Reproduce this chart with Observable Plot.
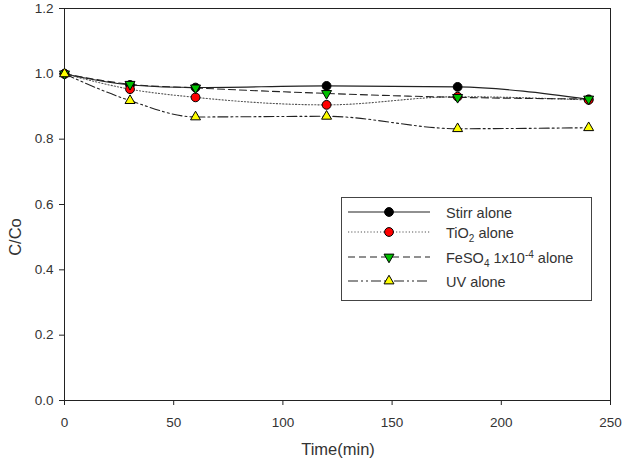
<!DOCTYPE html>
<html>
<head>
<meta charset="utf-8">
<script src="https://cdn.jsdelivr.net/npm/d3@7"></script>
<script src="https://cdn.jsdelivr.net/npm/@observablehq/plot@0.6"></script>
<style>
  html, body { margin: 0; padding: 0; background: #fff; }
  #chart svg { display: block; font-family: "Liberation Sans", Arial, sans-serif; }
</style>
</head>
<body>
<div id="chart"></div>
<script>
// Sampling times (min)
const times = [0, 30, 60, 120, 180, 240];

// C/Co for each control experiment
const stirr = [1.0, 0.966, 0.958, 0.963, 0.960, 0.922];
const tio2  = [1.0, 0.953, 0.928, 0.905, 0.930, 0.920];
const feso4 = [1.0, 0.968, 0.957, 0.940, 0.928, 0.923];
const uv    = [1.0, 0.918, 0.868, 0.870, 0.832, 0.835];

const yTicks = [0, 0.2, 0.4, 0.6, 0.8, 1.0, 1.2];
const xTicks = [0, 50, 100, 150, 200, 250];

const series = [
  {key: "stirr", values: stirr, dash: null, fill: "#000000", symbol: "circle", rotate: 0, r: 4.4},
  {key: "tio2", values: tio2, dash: "1.2,2", fill: "#ff0000", symbol: "circle", rotate: 0, r: 4.4},
  {key: "feso4", values: feso4, dash: "7,4", fill: "#00c000", symbol: "triangle", rotate: 180, r: 3.7},
  {key: "uv", values: uv, dash: "10,3,2,3,2,3", fill: "#ffff00", symbol: "triangle", rotate: 0, r: 3.7}
];

const rows = series.map(s => times.map((t, i) => ({t, v: s.values[i], key: s.key})));

const marks = [];
series.forEach((s, i) => {
  marks.push(Plot.line(rows[i], {
    x: "t", y: "v", curve: "monotone-x",
    stroke: s.key === "tio2" ? "#555" : "#222",
    strokeWidth: 1.1,
    strokeDasharray: s.dash
  }));
});
series.forEach((s, i) => {
  marks.push(Plot.dot(rows[i], {
    x: "t", y: "v", symbol: () => s.symbol, r: s.r, rotate: s.rotate,
    fill: s.fill, stroke: "#000", strokeWidth: 1
  }));
});

const chart = Plot.plot({
  width: 624,
  height: 459,
  marginLeft: 64,
  marginRight: 14,
  marginTop: 8,
  marginBottom: 59,
  style: {fontFamily: "Liberation Sans, Arial, sans-serif", fontSize: "13px", color: "#333"},
  symbol: {type: "identity"},
  x: {domain: [0, 250], ticks: xTicks},
  y: {domain: [0, 1.2], ticks: yTicks},
  marks: [
    Plot.axisX({ticks: xTicks, tickSize: 5, tickPadding: 12, label: null, fontSize: 13.5, stroke: "#222"}),
    Plot.axisY({ticks: yTicks, tickSize: 5, tickPadding: 6, tickFormat: d3.format(".1f"), label: null, fontSize: 13.5, stroke: "#222"}),
    Plot.frame({stroke: "#222", strokeWidth: 1}),
    ...marks
  ]
});

document.getElementById("chart").appendChild(chart);

// Axis titles and legend drawn into the same SVG
const svg = d3.select(chart);
svg.append("text")
  .attr("x", 338).attr("y", 455)
  .attr("text-anchor", "middle")
  .attr("font-size", 16.5).attr("fill", "#333")
  .text("Time(min)");
svg.append("text")
  .attr("transform", "translate(21,237) rotate(-90)")
  .attr("text-anchor", "middle")
  .attr("font-size", 16.5).attr("fill", "#333")
  .text("C/Co");

const lg = svg.append("g").attr("text-anchor", "start");
lg.append("rect")
  .attr("x", 341.5).attr("y", 197.5).attr("width", 250).attr("height", 103)
  .attr("fill", "#fff").attr("stroke", "#444").attr("stroke-width", 1);

const legendRows = [
  {y: 212, parts: [["Stirr alone"]]},
  {y: 232, parts: [["TiO"], ["2", "sub"], [" alone", "base", -4]]},
  {y: 257, parts: [["FeSO"], ["4", "sub"], [" 1x10", "base", -4], ["-4", "sup"], [" alone", "base", 5]]},
  {y: 281, parts: [["UV alone"]]}
];
series.forEach((s, i) => {
  const row = legendRows[i];
  lg.append("line")
    .attr("x1", 348).attr("x2", 430).attr("y1", row.y).attr("y2", row.y)
    .attr("stroke", s.key === "tio2" ? "#555" : "#222").attr("stroke-width", 1.1)
    .attr("stroke-dasharray", s.dash);
  const type = s.symbol === "circle" ? d3.symbolCircle : d3.symbolTriangle;
  lg.append("path")
    .attr("d", d3.symbol(type, Math.PI * s.r * s.r)())
    .attr("transform", `translate(389,${row.y}) rotate(${s.rotate})`)
    .attr("fill", s.fill).attr("stroke", "#000");
  const t = lg.append("text")
    .attr("x", 446).attr("y", row.y + 6)
    .attr("font-size", 14.5).attr("fill", "#333");
  row.parts.forEach(([str, kind, back]) => {
    const span = t.append("tspan").text(str);
    if (kind === "sub") span.attr("font-size", 10).attr("dy", 4);
    if (kind === "sup") span.attr("font-size", 10).attr("dy", -5);
    if (kind === "base") span.attr("dy", back);
  });
});
</script>
</body>
</html>
